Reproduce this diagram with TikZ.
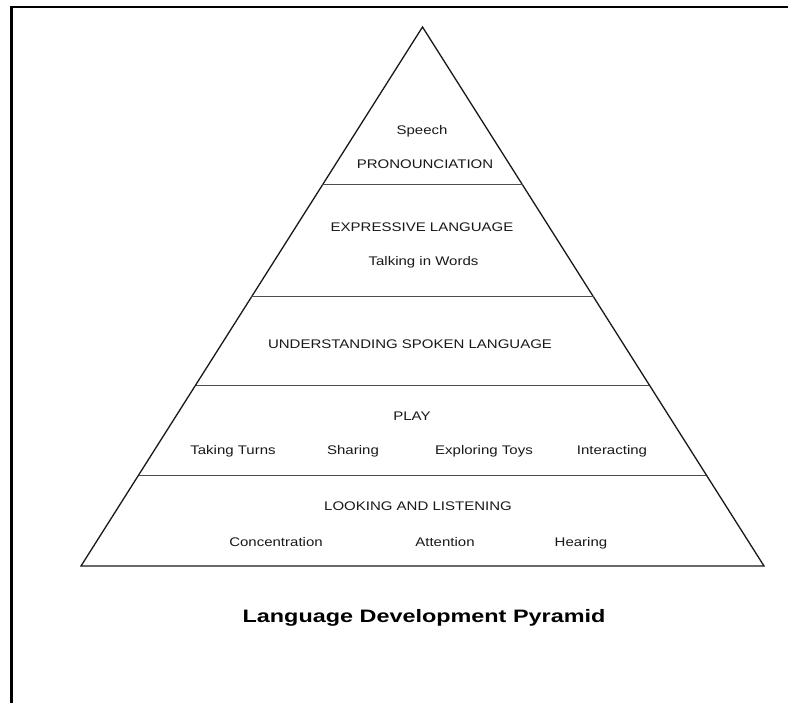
\documentclass[tikz,border=0pt]{standalone}
\usepackage{fontspec}
\usetikzlibrary{calc}
\newfontfamily\bodyfont[FakeStretch=1.2]{Liberation Sans}
\newfontfamily\titlefont[FakeStretch=1.3]{Liberation Sans Bold}
\tikzset{
  lbl/.style={anchor=base, inner sep=0pt, font=\bodyfont\fontsize{12.5}{15}\selectfont, text=black!90},
  ttl/.style={anchor=base, inner sep=0pt, font=\titlefont\fontsize{18}{22}\selectfont, text=black},
  pyr/.style={line width=1.3pt, line join=miter, black!90},
  divider/.style={line width=1pt, black!70},
  frame/.style={line width=2.5pt, black}
}
\begin{document}
\begin{tikzpicture}[x=1pt,y=-1pt]
\useasboundingbox (0,0) rectangle (788,703);
\fill[white] (0,0) rectangle (788,703);
% page frame (partly cropped)
\coordinate (fb) at (11.3,704);
\coordinate (ftl) at (11.3,7.2);
\coordinate (fr) at (789,7.2);
\draw[frame] (fb) -- (ftl) -- (fr);
% pyramid
\coordinate (apex) at (422.5,27);
\coordinate (bl) at (81,566);
\coordinate (br) at (764,566);
\draw[pyr] (apex) -- (bl) -- (br) -- cycle;
% dividers
\foreach \t/\n in {0.2931/a,0.5009/b,0.6642/c,0.8312/d}{
  \coordinate (L\n) at ($(apex)!\t!(bl)$);
  \coordinate (R\n) at ($(apex)!\t!(br)$);
  \draw[divider] (L\n) -- (R\n);
}
% texts
\node[lbl] (speech) at (422,135) {Speech};
\node[lbl] (pron) at (425,169) {PRONOUNCIATION};
\node[lbl] (expr) at (422,232) {EXPRESSIVE LANGUAGE};
\node[lbl] (talk) at (423.5,266) {Talking in Words};
\node[lbl] (under) at (410,349) {UNDERSTANDING SPOKEN LANGUAGE};
\node[lbl] (play) at (412,421) {PLAY};
\node[lbl] (turns) at (233,455) {Taking Turns};
\node[lbl] (share) at (353,455) {Sharing};
\node[lbl] (explore) at (484,455) {Exploring Toys};
\node[lbl] (interact) at (612,455) {Interacting};
\node[lbl] (look) at (418,511) {LOOKING AND LISTENING};
\node[lbl] (conc) at (276,546) {Concentration};
\node[lbl] (atten) at (445,546) {Attention};
\node[lbl] (hear) at (581,546) {Hearing};
\node[ttl] (title) at (424,622) {Language Development Pyramid};
\end{tikzpicture}
\end{document}
